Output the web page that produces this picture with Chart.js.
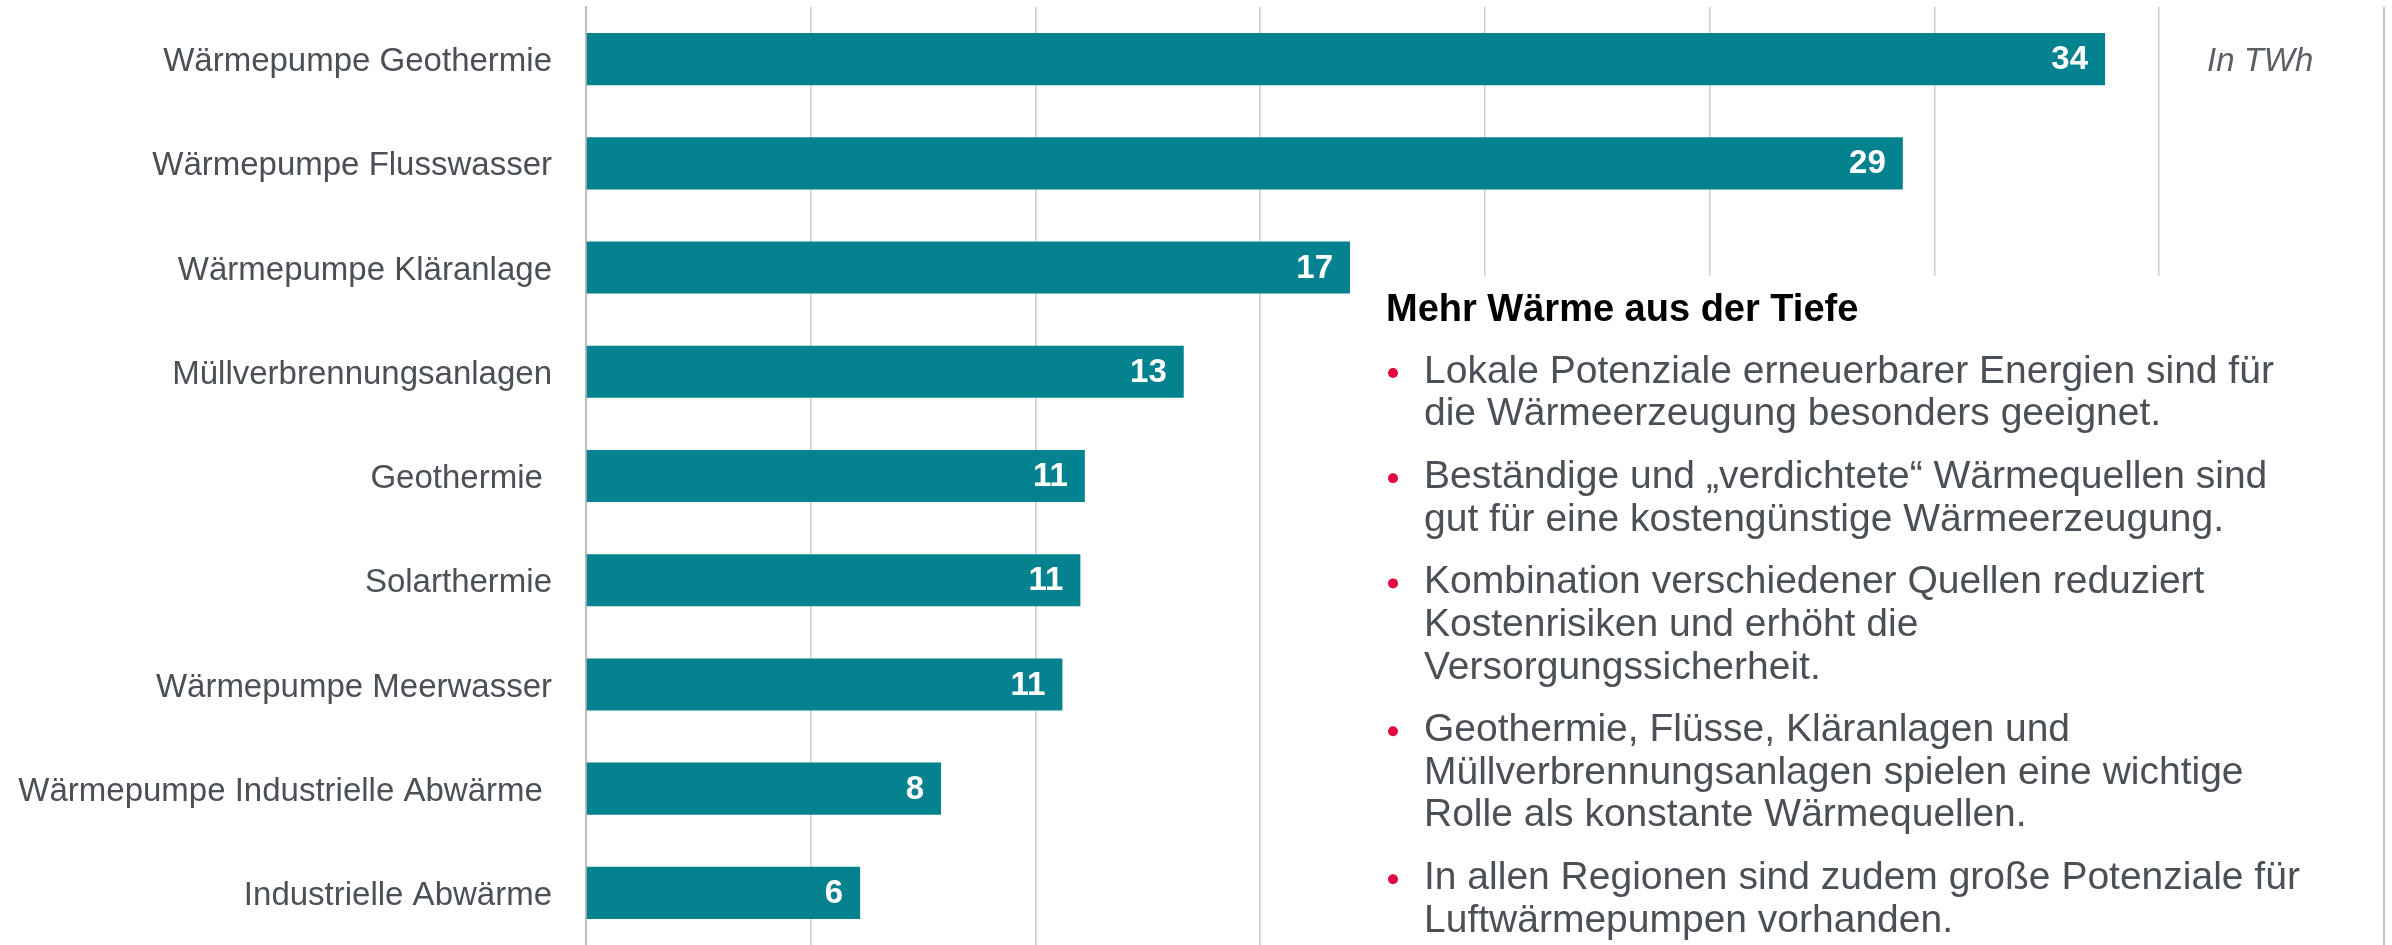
<!DOCTYPE html>
<html lang="de">
<head>
<meta charset="utf-8">
<title>Wärmepotenziale</title>
<script src="https://cdn.jsdelivr.net/npm/chart.js@4/dist/chart.umd.min.js"></script>
<style>
  html, body { margin: 0; padding: 0; background: #fff; overflow: hidden; }
  canvas { display: block; }
</style>
</head>
<body>
<canvas id="chartWaerme" width="2392" height="945"></canvas>
<script>
(() => {
  'use strict'
  // Données (TWh)
  const categories = [
    'Wärmepumpe Geothermie',
    'Wärmepumpe Flusswasser',
    'Wärmepumpe Kläranlage',
    'Müllverbrennungsanlagen',
    'Geothermie ',
    'Solarthermie',
    'Wärmepumpe Meerwasser',
    'Wärmepumpe Industrielle Abwärme ',
    'Industrielle Abwärme'
  ];
  const valeurs = [33.8, 29.3, 17.0, 13.3, 11.1, 11.0, 10.6, 7.9, 6.1];
  const axeMin = 0;
  const axeMax = 35;
  const axePas = 5;
  const unite = 'In TWh';

  // Encadré de texte à droite
  const titreEncadre = 'Mehr Wärme aus der Tiefe';
  const puces = [
    ['Lokale Potenziale erneuerbarer Energien sind für', 'die Wärmeerzeugung besonders geeignet.'],
    ['Beständige und „verdichtete“ Wärmequellen sind', 'gut für eine kostengünstige Wärmeerzeugung.'],
    ['Kombination verschiedener Quellen reduziert', 'Kostenrisiken und erhöht die', 'Versorgungssicherheit.'],
    ['Geothermie, Flüsse, Kläranlagen und', 'Müllverbrennungsanlagen spielen eine wichtige', 'Rolle als konstante Wärmequellen.'],
    ['In allen Regionen sind zudem große Potenziale für', 'Luftwärmepumpen vorhanden.']
  ];

  const police = '"Liberation Sans", Arial, Helvetica, sans-serif';
  const gris = '#4b5057';

  // étiquettes blanches au bout des barres
  const etiquettes = {
    id: 'etiquettes',
    afterDatasetsDraw(chart) {
      const ctx = chart.ctx;
      const meta = chart.getDatasetMeta(0);
      ctx.save();
      ctx.fillStyle = '#ffffff';
      ctx.font = 'bold 33px ' + police;
      ctx.textAlign = 'right';
      ctx.textBaseline = 'middle';
      meta.data.forEach((bar, i) => {
        ctx.fillText(String(Math.round(valeurs[i])), bar.x - 17, bar.y + 1);
      });
      ctx.restore();
    }
  };

  // fond blanc de l'encadré (cache la grille) + texte
  const encadre = {
    id: 'encadre',
    beforeDatasetsDraw(chart) {
      const ctx = chart.ctx;
      ctx.save();
      ctx.fillStyle = '#ffffff';
      ctx.fillRect(1300, 276, chart.width - 1300, chart.height - 276);
      ctx.restore();
    },
    afterDraw(chart) {
      const ctx = chart.ctx;
      const area = chart.chartArea;
      ctx.save();
      // unité en haut à droite
      ctx.fillStyle = '#5a5f66';
      ctx.font = 'italic 33px ' + police;
      ctx.textBaseline = 'middle';
      ctx.textAlign = 'left';
      ctx.fillText(unite, area.right + 48, 62);

      // bord droit
      ctx.strokeStyle = '#c4c4c4';
      ctx.lineWidth = 2;
      ctx.beginPath();
      ctx.moveTo(chart.width - 8, area.top);
      ctx.lineTo(chart.width - 8, chart.height);
      ctx.stroke();

      ctx.fillStyle = '#000000';
      ctx.font = 'bold 38px ' + police;
      ctx.fillText(titreEncadre, 1386, 311);

      ctx.font = '39px ' + police;
      let y = 372;
      puces.forEach(lignes => {
        ctx.fillStyle = '#e2073f';
        ctx.beginPath();
        ctx.arc(1393, y + 1, 5, 0, Math.PI * 2);
        ctx.fill();
        ctx.fillStyle = gris;
        lignes.forEach((ligne, j) => {
          ctx.fillText(ligne, 1424, y);
          if (j < lignes.length - 1) y += 42.7;
        });
        y += 62.5;
      });
      ctx.restore();
    }
  };

  new Chart(document.getElementById('chartWaerme'), {
    type: 'bar',
    data: {
      labels: categories,
      datasets: [{
        data: valeurs,
        backgroundColor: '#05828f',
        borderWidth: 0,
        categoryPercentage: 1,
        barPercentage: 0.5
      }]
    },
    options: {
      indexAxis: 'y',
      responsive: false,
      animation: false,
      layout: { padding: { top: 7, right: 233, bottom: 0, left: 0 } },
      plugins: {
        legend: { display: false },
        tooltip: { enabled: false }
      },
      scales: {
        x: {
          min: axeMin,
          max: axeMax,
          ticks: { display: false, stepSize: axePas },
          grid: { color: '#cdcdcd', lineWidth: 1.5, drawTicks: false },
          border: { display: false },
          afterFit: (scale) => { scale.height = 0; }
        },
        y: {
          grid: { display: false, drawTicks: false },
          border: { display: true, color: '#bdbdbd', width: 2 },
          ticks: {
            color: gris,
            padding: 34,
            labelOffset: 3,
            font: { family: police, size: 33 }
          },
          afterFit: (scale) => {
            // largeur fixe, pas de marge verticale ajoutée par les étiquettes
            scale.width = 586;
            scale.paddingTop = 0;
            scale.paddingBottom = 0;
          }
        }
      }
    },
    plugins: [encadre, etiquettes]
  });
})();
</script>
</body>
</html>
